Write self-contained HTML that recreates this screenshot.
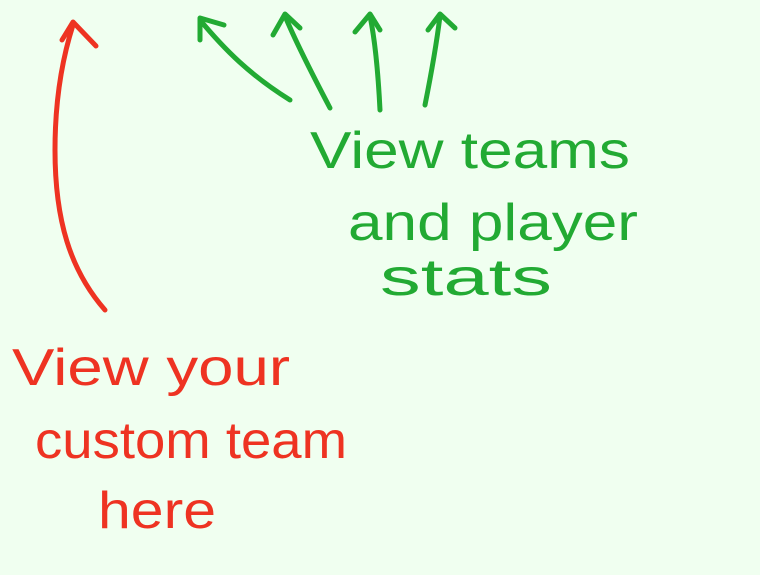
<!DOCTYPE html>
<html><head><style>
html,body{margin:0;padding:0;background:#f0fff0;}
svg{display:block}
text{font-family:"Liberation Sans",sans-serif;}
</style></head><body>
<svg width="760" height="575" viewBox="0 0 760 575">
<rect width="760" height="575" fill="#f0fff0"/>
<g fill="none" stroke="#ee3322" stroke-width="5" stroke-linecap="round" stroke-linejoin="round">
<path d="M105,310 C70,270 55,220 55,150 C55,90 65,50 73,25"/>
<path d="M62,40 L73,22 L96,46"/>
</g>
<g fill="none" stroke="#22aa33" stroke-width="5" stroke-linecap="round" stroke-linejoin="round">
<path d="M290,100 C250,75 225,50 200,20"/><path d="M200,40 L200,18 L224,25"/>
<path d="M330,108 C310,70 295,40 285,16"/><path d="M273,35 L285,14 L300,28"/>
<path d="M380,110 C378,70 375,40 370,16"/><path d="M355,32 L370,14 L380,30"/>
<path d="M425,105 C432,70 437,40 440,16"/><path d="M428,30 L440,14 L455,28"/>
</g>
<g fill="#22aa33" font-size="52">
<text x="310" y="168" textLength="320" lengthAdjust="spacingAndGlyphs">View teams</text>
<text x="348" y="240" textLength="290" lengthAdjust="spacingAndGlyphs">and player</text>
<text x="380" y="295" textLength="172" lengthAdjust="spacingAndGlyphs">stats</text>
</g>
<g fill="#ee3322" font-size="52">
<text x="12" y="385" textLength="278" lengthAdjust="spacingAndGlyphs">View your</text>
<text x="35" y="458" textLength="312" lengthAdjust="spacingAndGlyphs">custom team</text>
<text x="98" y="528" textLength="118" lengthAdjust="spacingAndGlyphs">here</text>
</g>
</svg>
</body></html>
